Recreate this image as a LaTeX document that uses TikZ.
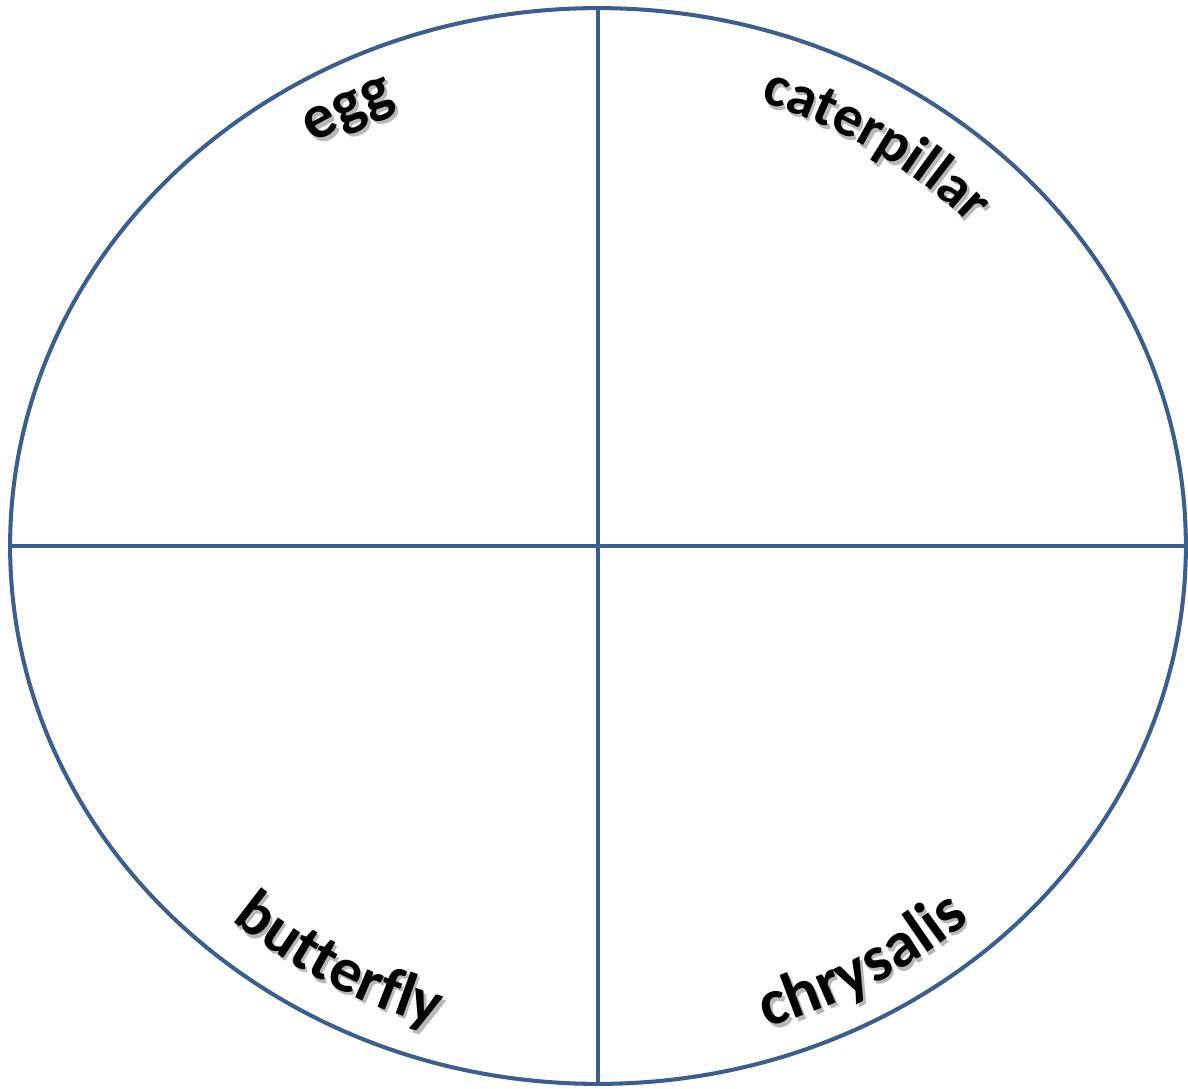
\documentclass[tikz,border=0pt]{standalone}
\usepackage{fontspec}
\usepackage{tikz}
\usepackage{xcolor}
\usetikzlibrary{shapes.geometric,decorations.text}
\newfontfamily\carlito{Carlito}
\definecolor{cycleblue}{HTML}{3B5E8D}

\begin{document}
\begin{tikzpicture}[x=0.02cm, y=0.02cm,
  stagetext/.style 2 args={decorate, decoration={text along path, text align=center,
      text color=black, text={|\carlito\bfseries\fontsize{#1}{#1}\selectfont|#2}}},
  stageshadow/.style 2 args={stagetext={#1}{#2}, decoration={text color=black!28}, shift={(2.5,-3.5)}}]
\useasboundingbox (-598,-543) rectangle (590,546);
% the cycle and its four quarters
\node[ellipse, draw=cycleblue, line width=2.3pt, minimum width=23.52cm,
      minimum height=21.52cm, inner sep=0pt] (cycle) at (0,0) {};
\draw[cycleblue, line width=2.3pt] (cycle.north) -- (cycle.south);
\draw[cycleblue, line width=2.3pt] (cycle.west) -- (cycle.east);
% stage names, shadow first
\path[stageshadow={36}{egg}] (138:523 and 479) arc[start angle=138, end angle=98, x radius=523, y radius=479];
\path[stagetext={36}{egg}] (138:523 and 479) arc[start angle=138, end angle=98, x radius=523, y radius=479];
\path[stageshadow={33}{caterpillar}] (87:512 and 468) arc[start angle=87, end angle=27, x radius=512, y radius=468];
\path[stagetext={33}{caterpillar}] (87:512 and 468) arc[start angle=87, end angle=27, x radius=512, y radius=468];
\path[stageshadow={36}{butterfly}] (210:549 and 503) arc[start angle=210, end angle=270, x radius=549, y radius=503];
\path[stagetext={36}{butterfly}] (210:549 and 503) arc[start angle=210, end angle=270, x radius=549, y radius=503];
\path[stageshadow={37}{chrysalis}] (270.5:553 and 506) arc[start angle=270.5, end angle=330.5, x radius=553, y radius=506];
\path[stagetext={37}{chrysalis}] (270.5:553 and 506) arc[start angle=270.5, end angle=330.5, x radius=553, y radius=506];
\end{tikzpicture}
\end{document}
